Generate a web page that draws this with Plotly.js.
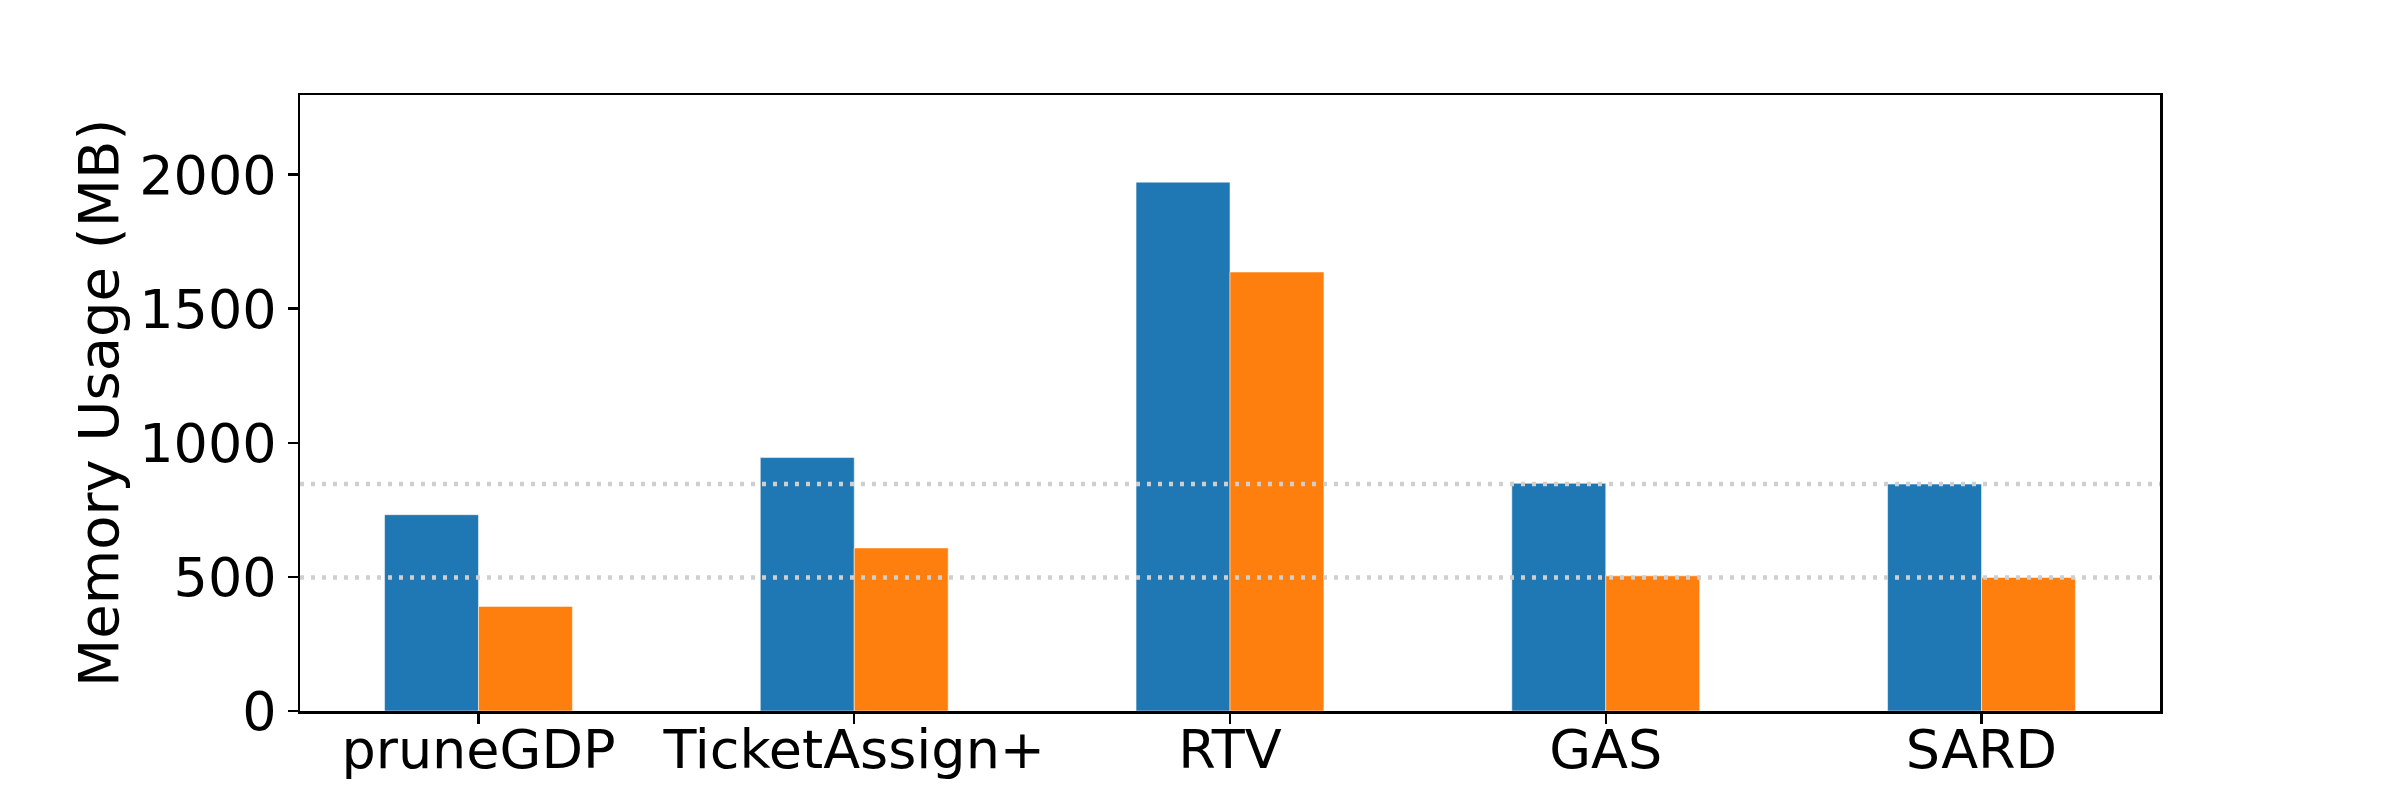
<!DOCTYPE html>
<html>
<head>
<meta charset="utf-8">
<script src="https://cdn.plot.ly/plotly-3.0.1.min.js"></script>
<style>html,body{margin:0;padding:0;background:#fff;}#chart{width:2400px;height:800px;}</style>
</head>
<body>
<div id="chart"></div>
<script>
const categories = ["pruneGDP", "TicketAssign+", "RTV", "GAS", "SARD"];
const seriesA = [732, 945, 1972, 849, 846];
const seriesB = [390, 608, 1637, 504, 498];
const refLines = [846, 498];
const yTicks = [0, 500, 1000, 1500, 2000];
const yTitle = "Memory Usage (MB)";

const font = {family: "DejaVu Sans", color: "#000"};

const traces = [
  {type: "bar", x: categories, y: seriesA, name: "A",
   marker: {color: "#1f77b4", line: {width: 1, color: "rgba(255,255,255,0.5)"}}},
  {type: "bar", x: categories, y: seriesB, name: "B",
   marker: {color: "#ff7f0e", line: {width: 1, color: "rgba(255,255,255,0.5)"}}}
];

const shapes = refLines.map(v => ({
  type: "line", xref: "paper", x0: 0, x1: 1, yref: "y", y0: v, y1: v,
  layer: "above", line: {color: "#cfcfcf", width: 4.5, dash: "4px,7px"}
}));

const layout = {
  width: 2400, height: 800,
  margin: {l: 300, r: 240, t: 95, b: 89, pad: 0},
  paper_bgcolor: "#fff", plot_bgcolor: "#fff",
  showlegend: false,
  barmode: "group", bargap: 0.5, bargroupgap: 0,
  font: Object.assign({size: 54}, font),
  xaxis: {
    type: "category", range: [-0.475, 4.475],
    showline: true, mirror: true, linecolor: "#000", linewidth: 2.5,
    ticks: "outside", ticklen: 10, tickwidth: 2.5, tickcolor: "#000",
    showgrid: false, zeroline: false, ticklabelstandoff: -20,
    tickfont: Object.assign({size: 54}, font)
  },
  yaxis: {
    range: [0, 2297], tickvals: yTicks, ticktext: yTicks.map(String),
    showline: true, mirror: true, linecolor: "#000", linewidth: 2.5,
    ticks: "outside", ticklen: 10, tickwidth: 2.5, tickcolor: "#000",
    showgrid: false, zeroline: false,
    tickfont: Object.assign({size: 54}, font)
  },
  annotations: [{
    text: yTitle, xref: "paper", yref: "paper",
    x: (98 - 300) / 1860, y: 0.5, xanchor: "center", yanchor: "middle",
    textangle: -90, showarrow: false, font: Object.assign({size: 56}, font)
  }],
  shapes: shapes
};

Plotly.newPlot("chart", traces, layout, {staticPlot: true, displayModeBar: false});
</script>
</body>
</html>
